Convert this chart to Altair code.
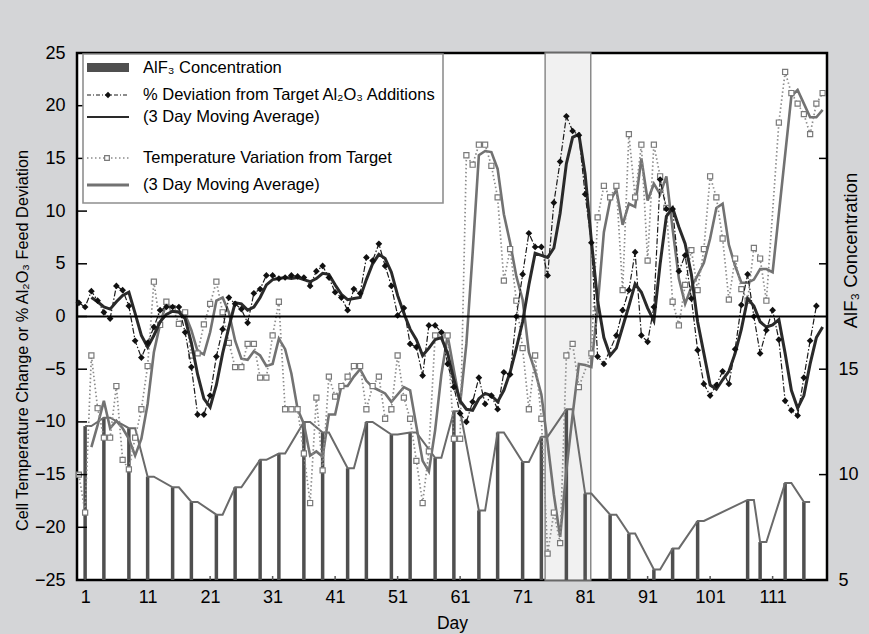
import altair as alt
import pandas as pd

FONT = "Liberation Sans, Arial, sans-serif"

# ---------------- data ----------------
dev_days = list(range(0, 85)) + list(range(86, 119))
dev_vals = [1.3, 0.9, 2.4, 1.5, 0.4, -0.2, 2.9, 2.5, 1.0, -2.3,
            -3.9, -2.5, -1.0, 0.6, 0.9, 0.9, 0.9, -1.5, -4.8, -9.3,
            -9.3, -7.5, -3.8, -1.2, 1.8, 1.2, 0.7, -0.6, 2.2, 2.6,
            3.9, 3.9, 3.6, 3.7, 3.9, 3.8, 3.7, 2.9, 4.3, 4.8,
            3.7, 2.3, 1.8, 0.6, 2.6, 2.2, 5.6, 5.3, 6.9, 4.8,
            2.9, 0.1, 0.8, -2.6, -2.9, -5.6, -0.85, -0.85, -1.5, -4.5,
            -6.7, -9.2, -10.0, -8.1, -5.8, -8.3, -7.5, -8.8, -5.3, -5.5,
            0.0, 4.0, 7.9, 6.6, 6.6, 3.9, 10.8, 14.7, 19.0, 17.6,
            17.2, 11.6, 7.0, -3.8, -4.5,
            -1.8, 0.6, 2.5, 6.1,
            -1.8, -2.4, 0.9, 13.0, 10.2, 10.2, 4.3, 5.8, 1.7, -3.2,
            -6.4, -7.5, -6.5, -5.2, -6.4, -3.1, 1.1, 4.0, 0.0, -3.5,
            -1.3, 0.6, -2.2, -8.0, -8.9, -9.4, -5.8, -2.3, 1.0]

devma_days = list(range(2, 120))
devma_vals = [1.8, 1.4, 0.9, 0.7, 1.4, 2.0, 2.3, 0.3,
              -1.8, -2.9, -1.8, -0.5, 0.2, 0.5, 0.4, -0.2, -2.5, -5.5,
              -7.8, -8.6, -6.5, -3.5, -1.0, 1.3, 1.2, 0.6, 0.9, 1.8,
              3.0, 3.5, 3.6, 3.7, 3.6, 3.7, 3.5, 3.3, 3.6, 4.1,
              4.0, 3.0, 2.1, 1.6, 1.7, 1.8, 3.5, 5.0, 5.9, 5.5,
              4.2, 2.0, 0.3, -1.2, -2.2, -3.7, -3.0, -2.2, -2.0, -3.5,
              -6.0, -8.0, -8.8, -8.9, -7.8, -7.3, -7.5, -8.1, -7.0, -5.3,
              -3.0, -0.5, 3.0, 6.0, 5.8, 5.6, 6.5, 9.8, 14.5, 17.0,
              17.3, 13.5, 7.2, 1.5, -2.0, -3.7, -3.0, -1.0, 1.0, 3.1,
              2.3, 0.8, -0.4, 5.0, 9.5, 10.3, 8.5, 6.9, 4.0, -0.5,
              -3.5, -6.5, -6.9, -6.0, -5.2, -3.5, -1.2, 1.7, 1.0, -0.5,
              -1.0, -0.8, -0.3, -3.5, -7.0, -8.7, -7.5, -4.5, -2.0, -1.0]

temp_days = list(range(0, 81)) + list(range(82, 111)) + list(range(112, 120))
temp_vals = [-15.0, -18.6, -3.7, -8.7, -11.5, -11.5, -6.6, -13.6, -14.5, -11.5,
             -8.8, -4.7, 3.3, -0.8, 1.4, 0.8, -0.7, 0.4, -3.7, -3.5,
             -0.75, 1.2, 3.3, 0.4, -2.5, -4.8, -4.8, -2.6, -2.6, -5.8,
             -5.8, -1.8, 1.4, -8.8, -8.8, -8.8, -13.0, -17.7, -7.7, -14.6,
             -5.7, -7.6, -6.6, -5.7, -4.7, -4.7, -8.8, -6.6, -5.7, -9.7,
             -8.8, -3.7, -7.7, -9.7, -13.7, -17.7, -12.8, -1.8, -1.8, -1.8,
             -11.6, -11.6, 15.3, 14.4, 16.3, 16.3, 14.3, 11.3, 3.4, 6.4,
             1.5, -3.0, -8.8, -3.7, -9.7, -22.5, -18.6, -21.5, -3.7, -2.6,
             -6.7,
             -3.5, 9.4, 12.4, 11.3, 12.4, 2.5, 17.3, 11.3,
             16.3, 5.3, 16.3, 13.3, 10.3, 1.4, -0.85, 3.0, 6.3, 2.5,
             6.4, 13.3, 11.3, 7.4, 1.6, 5.5, 2.6, 1.5, 6.5, 5.5,
             1.5,
             18.4, 23.2, 21.2, 20.2, 19.2, 17.3, 20.2, 21.2]

tempma_days = list(range(2, 112)) + list(range(114, 120))
tempma_vals = [-12.4, -10.3, -8.0, -10.6, -9.9, -10.6, -11.6, -13.2,
               -11.6, -8.3, -3.4, -0.7, 1.3, 0.5, 0.5, 0.2, -1.3, -3.3,
               -3.6, -1.5, 1.5, 1.8, 0.4, -2.3, -4.0, -4.1, -3.3, -3.7,
               -4.7, -4.5, -2.1, -3.1, -5.4, -8.8, -10.2, -13.2, -12.8, -13.3,
               -9.3, -9.3, -6.6, -6.6, -5.7, -5.0, -6.1, -6.7, -7.0, -7.3,
               -8.1, -7.4, -6.7, -7.0, -10.4, -13.7, -14.7, -10.8, -5.5, -1.8,
               -5.1, -8.3, -2.6, 6.0, 15.3, 15.7, 15.6, 14.0, 9.7, 7.0,
               3.8, 1.6, -3.4, -5.2, -7.4, -12.0, -16.9, -20.9, -14.6, -9.3,
               -4.5, -4.6, -4.8, 1.0, 8.0, 11.0, 12.0, 8.7, 10.7, 10.4,
               15.0, 11.0, 12.6, 11.6, 13.3, 8.3, 3.6, 1.2, 2.8, 3.9,
               5.1, 7.4, 10.3, 10.7, 6.8, 4.8, 3.2, 3.2, 3.5, 4.5,
               4.5, 4.2,
               20.9, 21.5, 20.2, 18.9, 18.9, 19.6]

alf3_days = [1, 4, 8, 11, 15, 18, 22, 25, 29, 32, 36, 39, 43, 46, 50, 53, 57,
             60, 64, 67, 71, 74, 78, 81, 85, 88, 92, 95, 99, 107, 109, 113, 116]
alf3_vals = [12.3, 12.7, 12.2, 9.9, 9.4, 8.7, 8.1, 9.4, 10.7, 11.0, 12.5, 12.0, 10.3,
             12.5, 11.9, 12.0, 10.8, 13.0, 8.3, 12.0, 10.6, 11.8, 13.1, 9.1, 8.1,
             7.2, 5.5, 6.5, 7.8, 8.8, 6.8, 9.6, 8.7]

alf3_line_days = [1, 2, 4, 5, 8, 9, 11, 12, 15, 16, 18, 19, 22, 23, 25, 26, 29, 30,
                  32, 33, 36, 37, 39, 40, 43, 44, 46, 47, 50, 51, 53, 54, 57, 58,
                  60, 61, 64, 65, 67, 68, 71, 72, 74, 75, 78, 79, 81, 82, 85, 86,
                  88, 89, 92, 93, 95, 96, 99, 100, 107, 108, 109, 110, 113, 114, 116, 117]
alf3_line_vals = [12.3, 12.3, 12.7, 12.7, 12.2, 12.2, 9.9, 9.9, 9.4, 9.4, 8.7, 8.7,
                  8.1, 8.1, 9.4, 9.4, 10.7, 10.7, 11.0, 11.0, 12.5, 12.5, 12.0, 12.0,
                  10.3, 10.3, 12.5, 12.5, 11.9, 11.9, 12.0, 12.0, 10.8, 10.8,
                  13.0, 13.0, 8.3, 8.3, 12.0, 12.0, 10.6, 10.6, 11.8, 11.8, 13.1, 13.1,
                  9.1, 9.1, 8.1, 8.1, 7.2, 7.2, 5.5, 5.5, 6.5, 6.5, 7.8, 7.8,
                  8.8, 8.8, 6.8, 6.8, 9.6, 9.6, 8.7, 8.7]

shade_range = [74.6, 81.9]
x_ticks = [1, 11, 21, 31, 41, 51, 61, 71, 81, 91, 101, 111]
left_ticks = [-25, -20, -15, -10, -5, 0, 5, 10, 15, 20, 25]
right_ticks = [5, 10, 15, 20, 25]
right_labels = [5, 10, 15]

legend_labels = ["AlF\u2083 Concentration",
                 "% Deviation from Target Al\u2082O\u2083 Additions",
                 "(3 Day Moving Average)",
                 "Temperature Variation from Target",
                 "(3 Day Moving Average)"]

# ---------------- frames ----------------
dev_df = pd.DataFrame({"day": dev_days, "v": dev_vals})
devma_df = pd.DataFrame({"day": devma_days, "v": devma_vals})
temp_df = pd.DataFrame({"day": temp_days, "v": temp_vals})
tempma_df = pd.DataFrame({"day": tempma_days, "v": tempma_vals})
alf3_df = pd.DataFrame({"day": alf3_days, "v": alf3_vals})
alf3_line_df = pd.DataFrame({"day": alf3_line_days, "v": alf3_line_vals})
shade_df = pd.DataFrame({"start": [shade_range[0]], "end": [shade_range[1]]})

W, H = 750, 527
xs = alt.Scale(domain=[-0.3, 119.7], nice=False, zero=False)
ls = alt.Scale(domain=[-25, 25], nice=False, zero=False)
rs = alt.Scale(domain=[5, 30], nice=False, zero=False)

X_AXIS = alt.Axis(values=x_ticks, ticks=False, domain=False, grid=False,
                  labelFontSize=18, labelFont=FONT, labelColor="black", labelPadding=8,
                  labelOverlap=False, title="Day", titleFont=FONT, titleFontSize=17.5,
                  titleFontWeight="normal", titleColor="black",
                  titleX=W / 2, titleY=48, titleBaseline="alphabetic", titleAlign="center")

LEFT_AXIS = alt.Axis(orient="left", values=left_ticks, ticks=False, domain=False, grid=False,
                     labelFontSize=18, labelFont=FONT, labelColor="black", labelPadding=12,
                     labelOverlap=False, format="d",
                     title="Cell Temperature Change or % Al\u2082O\u2083 Feed Deviation",
                     titleFont=FONT, titleFontSize=16.3, titleFontWeight="normal",
                     titleColor="black", titleAngle=270, titleX=-55, titleY=287,
                     titleBaseline="middle", titleAlign="center")

RIGHT_AXIS = alt.Axis(orient="right", values=right_labels, ticks=False, domain=False, grid=False,
                      labelFontSize=18, labelFont=FONT, labelColor="black", labelPadding=11,
                      labelOverlap=False, format="d",
                      title="AlF\u2083 Concentration", titleFont=FONT, titleFontSize=18.5,
                      titleFontWeight="normal", titleColor="black", titleAngle=270,
                      titleX=23, titleY=197, titleBaseline="middle", titleAlign="center")


def xenc(field="day"):
    return alt.X(f"{field}:Q", scale=xs, axis=X_AXIS)


def yl(axis=None):
    return alt.Y("v:Q", scale=ls, axis=axis)


def yr(axis=None):
    return alt.Y("v:Q", scale=rs, axis=axis)


shade = alt.Chart(shade_df).mark_rect(fill="#f1f1f1", stroke="#8a8a8a", strokeWidth=1.5).encode(
    x=xenc("start"), x2="end:Q", y=alt.value(0), y2=alt.value(H))

bars = alt.Chart(alf3_df).mark_rule(color="#4f4f4f", strokeWidth=3.5).encode(
    x=xenc(), y=yr(RIGHT_AXIS), y2=alt.datum(5))

alf3_line = alt.Chart(alf3_line_df).mark_line(color="#6a6a6a", strokeWidth=2).encode(
    x=xenc(), y=yr())

temp_ma = alt.Chart(tempma_df).mark_line(color="#727272", strokeWidth=2.6).encode(
    x=xenc(), y=yl())

temp_line = alt.Chart(temp_df).mark_line(color="#8c8c8c", strokeWidth=1.7,
                                         strokeDash=[1.5, 2.5]).encode(
    x=xenc(), y=yl())

temp_pts = alt.Chart(temp_df).mark_point(shape="square", filled=True, fill="white",
                                         stroke="#7a7a7a", strokeWidth=1.2, size=26,
                                         opacity=1).encode(
    x=xenc(), y=yl())

dev_line = alt.Chart(dev_df).mark_line(color="#1a1a1a", strokeWidth=1.2,
                                       strokeDash=[6, 2, 1.5, 2]).encode(
    x=xenc(), y=yl(LEFT_AXIS))

dev_ma = alt.Chart(devma_df).mark_line(color="#2a2a2a", strokeWidth=3).encode(
    x=xenc(), y=yl())

dev_pts = alt.Chart(dev_df).mark_point(shape="diamond", filled=True, color="#111111",
                                       size=45, opacity=1).encode(
    x=xenc(), y=yl())

zero = alt.Chart(pd.DataFrame({"v": [0]})).mark_rule(color="black", strokeWidth=2).encode(
    y=yl())

lt = alt.Chart(pd.DataFrame({"v": left_ticks})).mark_rule(color="black", strokeWidth=1.5).encode(
    y=yl(), x=alt.value(0), x2=alt.value(10))
rt = alt.Chart(pd.DataFrame({"v": right_ticks})).mark_rule(color="black", strokeWidth=1.5).encode(
    y=yr(), x=alt.value(W - 8), x2=alt.value(W))
bt = alt.Chart(pd.DataFrame({"day": x_ticks})).mark_rule(color="#555", strokeWidth=1.5).encode(
    x=xenc(), y=alt.value(H - 4), y2=alt.value(H))

# ---------------- legend (chrome) ----------------
leg_box = alt.Chart().mark_rect(fill="white", stroke="#8f8f8f", strokeWidth=1.6).encode(
    x=alt.value(6), x2=alt.value(366), y=alt.value(1), y2=alt.value(150))
leg_sw1 = alt.Chart().mark_rect(fill="#4f4f4f").encode(
    x=alt.value(10), x2=alt.value(52), y=alt.value(10), y2=alt.value(19))
leg_l2 = alt.Chart().mark_rule(color="#1a1a1a", strokeWidth=1.2, strokeDash=[4, 2, 1, 2]).encode(
    x=alt.value(10), x2=alt.value(52), y=alt.value(42))
leg_p2 = alt.Chart().mark_point(shape="diamond", filled=True, color="#111", size=40, opacity=1).encode(
    x=alt.value(31), y=alt.value(42))
leg_l3 = alt.Chart().mark_rule(color="#2a2a2a", strokeWidth=2).encode(
    x=alt.value(10), x2=alt.value(52), y=alt.value(64))
leg_l4 = alt.Chart().mark_rule(color="#8c8c8c", strokeWidth=1.5, strokeDash=[1.5, 2.5]).encode(
    x=alt.value(10), x2=alt.value(52), y=alt.value(105))
leg_p4 = alt.Chart().mark_point(shape="square", filled=True, fill="white", stroke="#7a7a7a",
                                strokeWidth=1.2, size=22, opacity=1).encode(
    x=alt.value(30), y=alt.value(105))
leg_l5 = alt.Chart().mark_rule(color="#727272", strokeWidth=2.8).encode(
    x=alt.value(10), x2=alt.value(52), y=alt.value(132))

leg_texts = []
for lab, yy in zip(legend_labels, [15, 42, 64, 105, 132]):
    leg_texts.append(
        alt.Chart().mark_text(align="left", baseline="middle", font=FONT, fontSize=16.5,
                              color="black").encode(
            x=alt.value(66), y=alt.value(yy), text=alt.value(lab)))

chart = alt.layer(
    shade, bars, alf3_line, temp_ma, temp_line, temp_pts, dev_line, dev_ma, dev_pts,
    zero, lt, rt, bt,
    leg_box, leg_sw1, leg_l2, leg_p2, leg_l3, leg_l4, leg_p4, leg_l5, *leg_texts
).resolve_scale(y="independent").properties(
    width=W, height=H,
    padding={"left": 77, "top": 53, "right": 42, "bottom": 54},
    autosize=alt.AutoSizeParams(type="none"),
).configure(background="#d4d5d7", font=FONT).configure_view(
    stroke="black", strokeWidth=2.5, fill="white")

chart.save("out.html", embed_options={"renderer": "svg", "actions": False})
